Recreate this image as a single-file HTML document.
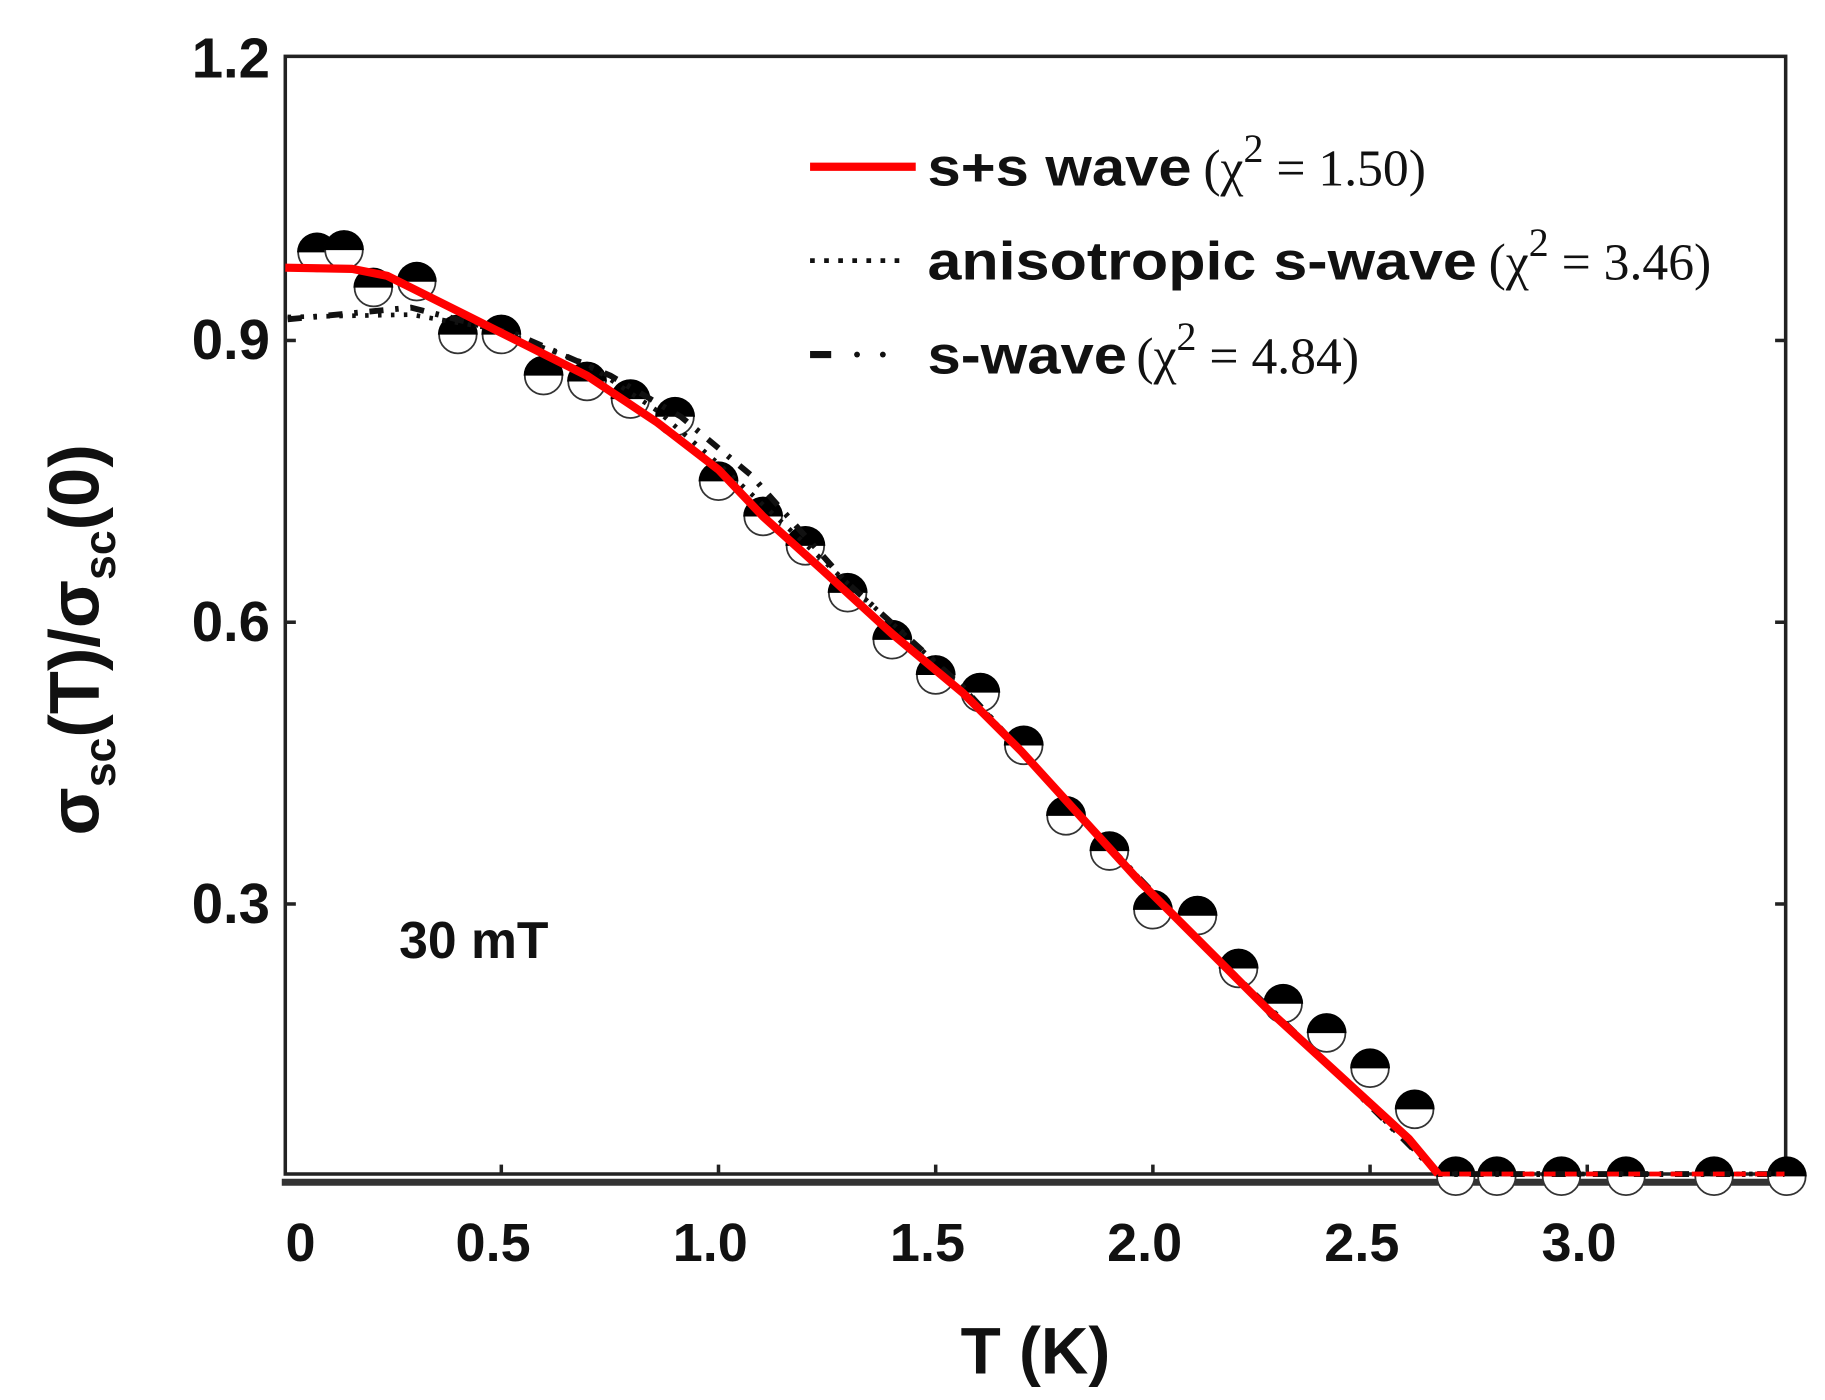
<!DOCTYPE html>
<html><head><meta charset="utf-8"><style>html,body{margin:0;padding:0;background:#fff}svg{display:block}</style></head>
<body>
<svg width="1825" height="1400" viewBox="0 0 1554.5 1192.5" xmlns="http://www.w3.org/2000/svg">
<g font-family="Liberation Sans, sans-serif" font-weight="bold">
<rect x="243" y="48" width="1278" height="952" fill="none" stroke="#222" stroke-width="3"/>
<line x1="240" y1="1007" x2="1524" y2="1007" stroke="#333" stroke-width="6"/>
<g stroke="#222" stroke-width="3">
<line x1="243" y1="290" x2="252" y2="290"/><line x1="243" y1="530" x2="252" y2="530"/><line x1="243" y1="770" x2="252" y2="770"/>
<line x1="1521" y1="290" x2="1512" y2="290"/><line x1="1521" y1="530" x2="1512" y2="530"/><line x1="1521" y1="770" x2="1512" y2="770"/>
<line x1="427" y1="1000" x2="427" y2="992"/><line x1="612" y1="1000" x2="612" y2="992"/><line x1="797" y1="1000" x2="797" y2="992"/><line x1="982" y1="1000" x2="982" y2="992"/><line x1="1167" y1="1000" x2="1167" y2="992"/><line x1="1352" y1="1000" x2="1352" y2="992"/>
</g>
<g font-size="48" text-anchor="end" fill="#111">
<text x="230" y="66">1.2</text><text x="230" y="306">0.9</text><text x="230" y="546">0.6</text><text x="230" y="786">0.3</text>
</g>
<g font-size="46" text-anchor="middle" fill="#111">
<text x="256" y="1074">0</text><text x="420" y="1074">0.5</text><text x="605" y="1074">1.0</text><text x="790" y="1074">1.5</text><text x="975" y="1074">2.0</text><text x="1160" y="1074">2.5</text><text x="1345" y="1074">3.0</text>
</g>
<text x="882" y="1170" font-size="56" text-anchor="middle" fill="#111">T (K)</text>
<text transform="translate(84,545) rotate(-90)" font-size="60" text-anchor="middle" fill="#111">σ<tspan font-size="38" dy="14">sc</tspan><tspan dy="-14">(T)/σ</tspan><tspan font-size="38" dy="14">sc</tspan><tspan dy="-14">(0)</tspan></text>
<text x="340" y="816" font-size="44" fill="#111">30 mT</text>
<line x1="690" y1="142" x2="780" y2="142" stroke="#f00" stroke-width="7"/>
<line x1="690" y1="222" x2="770" y2="222" stroke="#111" stroke-width="4" stroke-dasharray="4 8"/>
<line x1="690" y1="302" x2="708" y2="302" stroke="#111" stroke-width="6"/>
<circle cx="730" cy="302" r="2.5" fill="#111"/><circle cx="752" cy="302" r="2.5" fill="#111"/>
<g font-size="46" fill="#111">
<text x="790" y="158" textLength="225" lengthAdjust="spacingAndGlyphs">s+s wave</text>
<text x="1025" y="158" font-family="Liberation Serif, serif" font-weight="normal" font-size="44">(χ<tspan font-size="34" dy="-20">2</tspan><tspan dy="20"> = 1.50)</tspan></text>
<text x="790" y="238" textLength="468" lengthAdjust="spacingAndGlyphs">anisotropic s-wave</text>
<text x="1268" y="238" font-family="Liberation Serif, serif" font-weight="normal" font-size="44">(χ<tspan font-size="34" dy="-20">2</tspan><tspan dy="20"> = 3.46)</tspan></text>
<text x="790" y="318" textLength="170" lengthAdjust="spacingAndGlyphs">s-wave</text>
<text x="968" y="318" font-family="Liberation Serif, serif" font-weight="normal" font-size="44">(χ<tspan font-size="34" dy="-20">2</tspan><tspan dy="20"> = 4.84)</tspan></text>
</g>
</g>
<defs>
<g id="m"><circle r="16" fill="#fff" stroke="#333" stroke-width="1.5"/><path d="M-17,0 A17,17 0 0 1 17,0 Z" fill="#000"/></g>
</defs>
<g>
<use href="#m" x="270" y="215"/><use href="#m" x="293" y="213"/><use href="#m" x="318" y="245"/><use href="#m" x="355" y="240"/><use href="#m" x="390" y="285"/><use href="#m" x="427" y="285"/><use href="#m" x="463" y="320"/><use href="#m" x="500" y="325"/><use href="#m" x="537" y="340"/><use href="#m" x="575" y="355"/><use href="#m" x="612" y="410"/><use href="#m" x="650" y="440"/><use href="#m" x="686" y="465"/><use href="#m" x="722" y="505"/><use href="#m" x="760" y="545"/><use href="#m" x="797" y="575"/><use href="#m" x="835" y="590"/><use href="#m" x="872" y="635"/><use href="#m" x="908" y="695"/><use href="#m" x="945" y="725"/><use href="#m" x="982" y="775"/><use href="#m" x="1020" y="780"/><use href="#m" x="1055" y="825"/><use href="#m" x="1093" y="855"/><use href="#m" x="1130" y="880"/><use href="#m" x="1167" y="910"/><use href="#m" x="1205" y="945"/><use href="#m" x="1240" y="1002"/><use href="#m" x="1275" y="1002"/><use href="#m" x="1330" y="1002"/><use href="#m" x="1385" y="1002"/><use href="#m" x="1460" y="1002"/><use href="#m" x="1522" y="1002"/>
</g>
<polyline fill="none" stroke="#111" stroke-width="4" stroke-dasharray="3 8" points="245,270 350,268 420,280 500,310 560,350 612,395 650,430 720,495 820,585 920,695 1020,800 1140,915 1225,1000 1520,1000"/>
<polyline fill="none" stroke="#111" stroke-width="5" stroke-dasharray="12 10 3 10" points="245,272 350,262 440,285 520,320 580,355 640,405 720,495 820,585 920,695 1020,800 1140,915 1225,1000 1520,1000"/>
<polyline fill="none" stroke="#f00" stroke-width="7" stroke-linejoin="round" points="243,228 300,229 330,235 350,245 400,270 450,295 500,320 560,360 612,400 650,440 700,485 760,540 820,590 870,640 920,695 970,750 1020,800 1080,860 1140,915 1200,970 1225,1000"/>
<line x1="1225" y1="1000" x2="1520" y2="1000" stroke="#f00" stroke-width="4" stroke-dasharray="10 8"/>
</svg>
</body></html>
